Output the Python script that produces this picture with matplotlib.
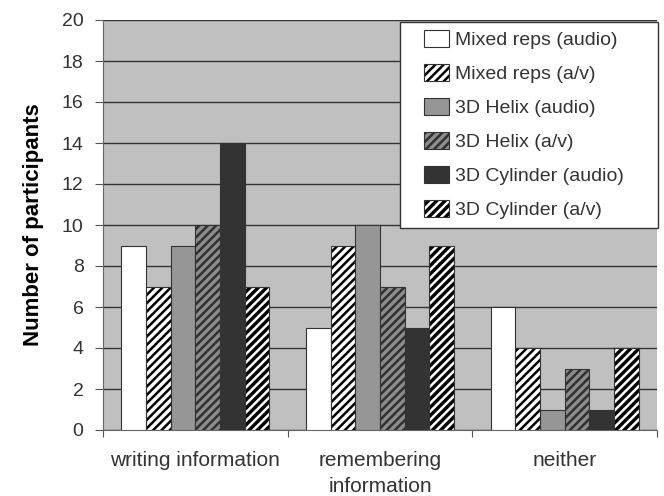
import matplotlib
matplotlib.use("Agg")
import matplotlib.pyplot as plt
import numpy as np
from matplotlib.legend_handler import HandlerTuple
from matplotlib.patches import Rectangle

categories = ["writing information", "remembering\ninformation", "neither"]
series_names = ["Mixed reps (audio)", "Mixed reps (a/v)", "3D Helix (audio)",
                "3D Helix (a/v)", "3D Cylinder (audio)", "3D Cylinder (a/v)"]
values = [
    [9, 5, 6],
    [7, 9, 4],
    [9, 10, 1],
    [10, 7, 3],
    [14, 5, 1],
    [7, 9, 4],
]
face_colors = ["#ffffff", "#ffffff", "#969696", "#8c8c8c", "#333333", "#000000"]
hatch_colors = [None, "#000000", None, "#303030", None, "#ffffff"]
y_ticks = list(range(0, 21, 2))

plt.rcParams['font.family'] = ['Liberation Sans', 'DejaVu Sans']
plt.rcParams['hatch.linewidth'] = 1.8

fig = plt.figure(figsize=(6.64, 4.96), dpi=100)
ax = fig.add_axes([103/664, 1-430/496, (657-103)/664, (430-20)/496])
ax.set_facecolor("#c0c0c0")

n = len(series_names)
total = 0.8
w = total / n
x = np.arange(len(categories)) + 0.5
handles = []
for i in range(n):
    pos = x - total/2 + w*(i + 0.5)
    if hatch_colors[i] is None:
        b = ax.bar(pos, values[i], w, color=face_colors[i], edgecolor="#333333",
                   linewidth=0.8, zorder=3)
        handles.append(b.patches[0])
    else:
        b1 = ax.bar(pos, values[i], w, facecolor=face_colors[i], edgecolor=hatch_colors[i],
                    hatch="////", linewidth=0, zorder=3)
        b2 = ax.bar(pos, values[i], w, fill=False, edgecolor="#333333",
                    linewidth=0.8, zorder=4)
        handles.append((b1.patches[0], b2.patches[0]))

ax.set_xlim(0, len(categories))
ax.set_ylim(0, 20)
ax.set_yticks(y_ticks)
ax.yaxis.grid(True, color="#333333", linewidth=1.0, zorder=0)
ax.set_axisbelow(True)
ax.set_xticks(np.arange(len(categories) + 1))
ax.set_xticklabels([])
ax.set_xticks(x, minor=True)
ax.set_xticklabels(categories, minor=True, fontsize=15, color="#333333",
                   linespacing=1.45)
ax.tick_params(axis="x", which="minor", length=0, pad=15)
ax.tick_params(axis="x", which="major", length=5, color="#555555", direction="out")
ax.tick_params(axis="y", length=6, color="#555555", labelsize=14, labelcolor="#333333",
               pad=8)
for s in ["top", "right"]:
    ax.spines[s].set_visible(False)
for s in ["left", "bottom"]:
    ax.spines[s].set_color("#666666")
ax.set_ylabel("Number of participants", fontsize=16, fontweight="bold", labelpad=13)

# legend box (white with dark border)
ax.add_patch(Rectangle((0.536, 0.4927), 1.0018 - 0.536, 0.9951 - 0.4927,
                       transform=ax.transAxes, facecolor="white", edgecolor="#333333",
                       linewidth=1.0, zorder=6, clip_on=False))
leg = ax.legend(handles, series_names, loc="upper left", bbox_to_anchor=(0.5794, 0.9756),
                fontsize=14, frameon=False, borderaxespad=0, borderpad=0,
                handlelength=1.3, handleheight=1.0, handletextpad=0.3,
                labelspacing=0.75,
                handler_map={tuple: HandlerTuple(ndivide=1, pad=0)})
leg.set_zorder(7)
for t in leg.get_texts():
    t.set_color("#333333")

fig.savefig("out.png", dpi=100)
